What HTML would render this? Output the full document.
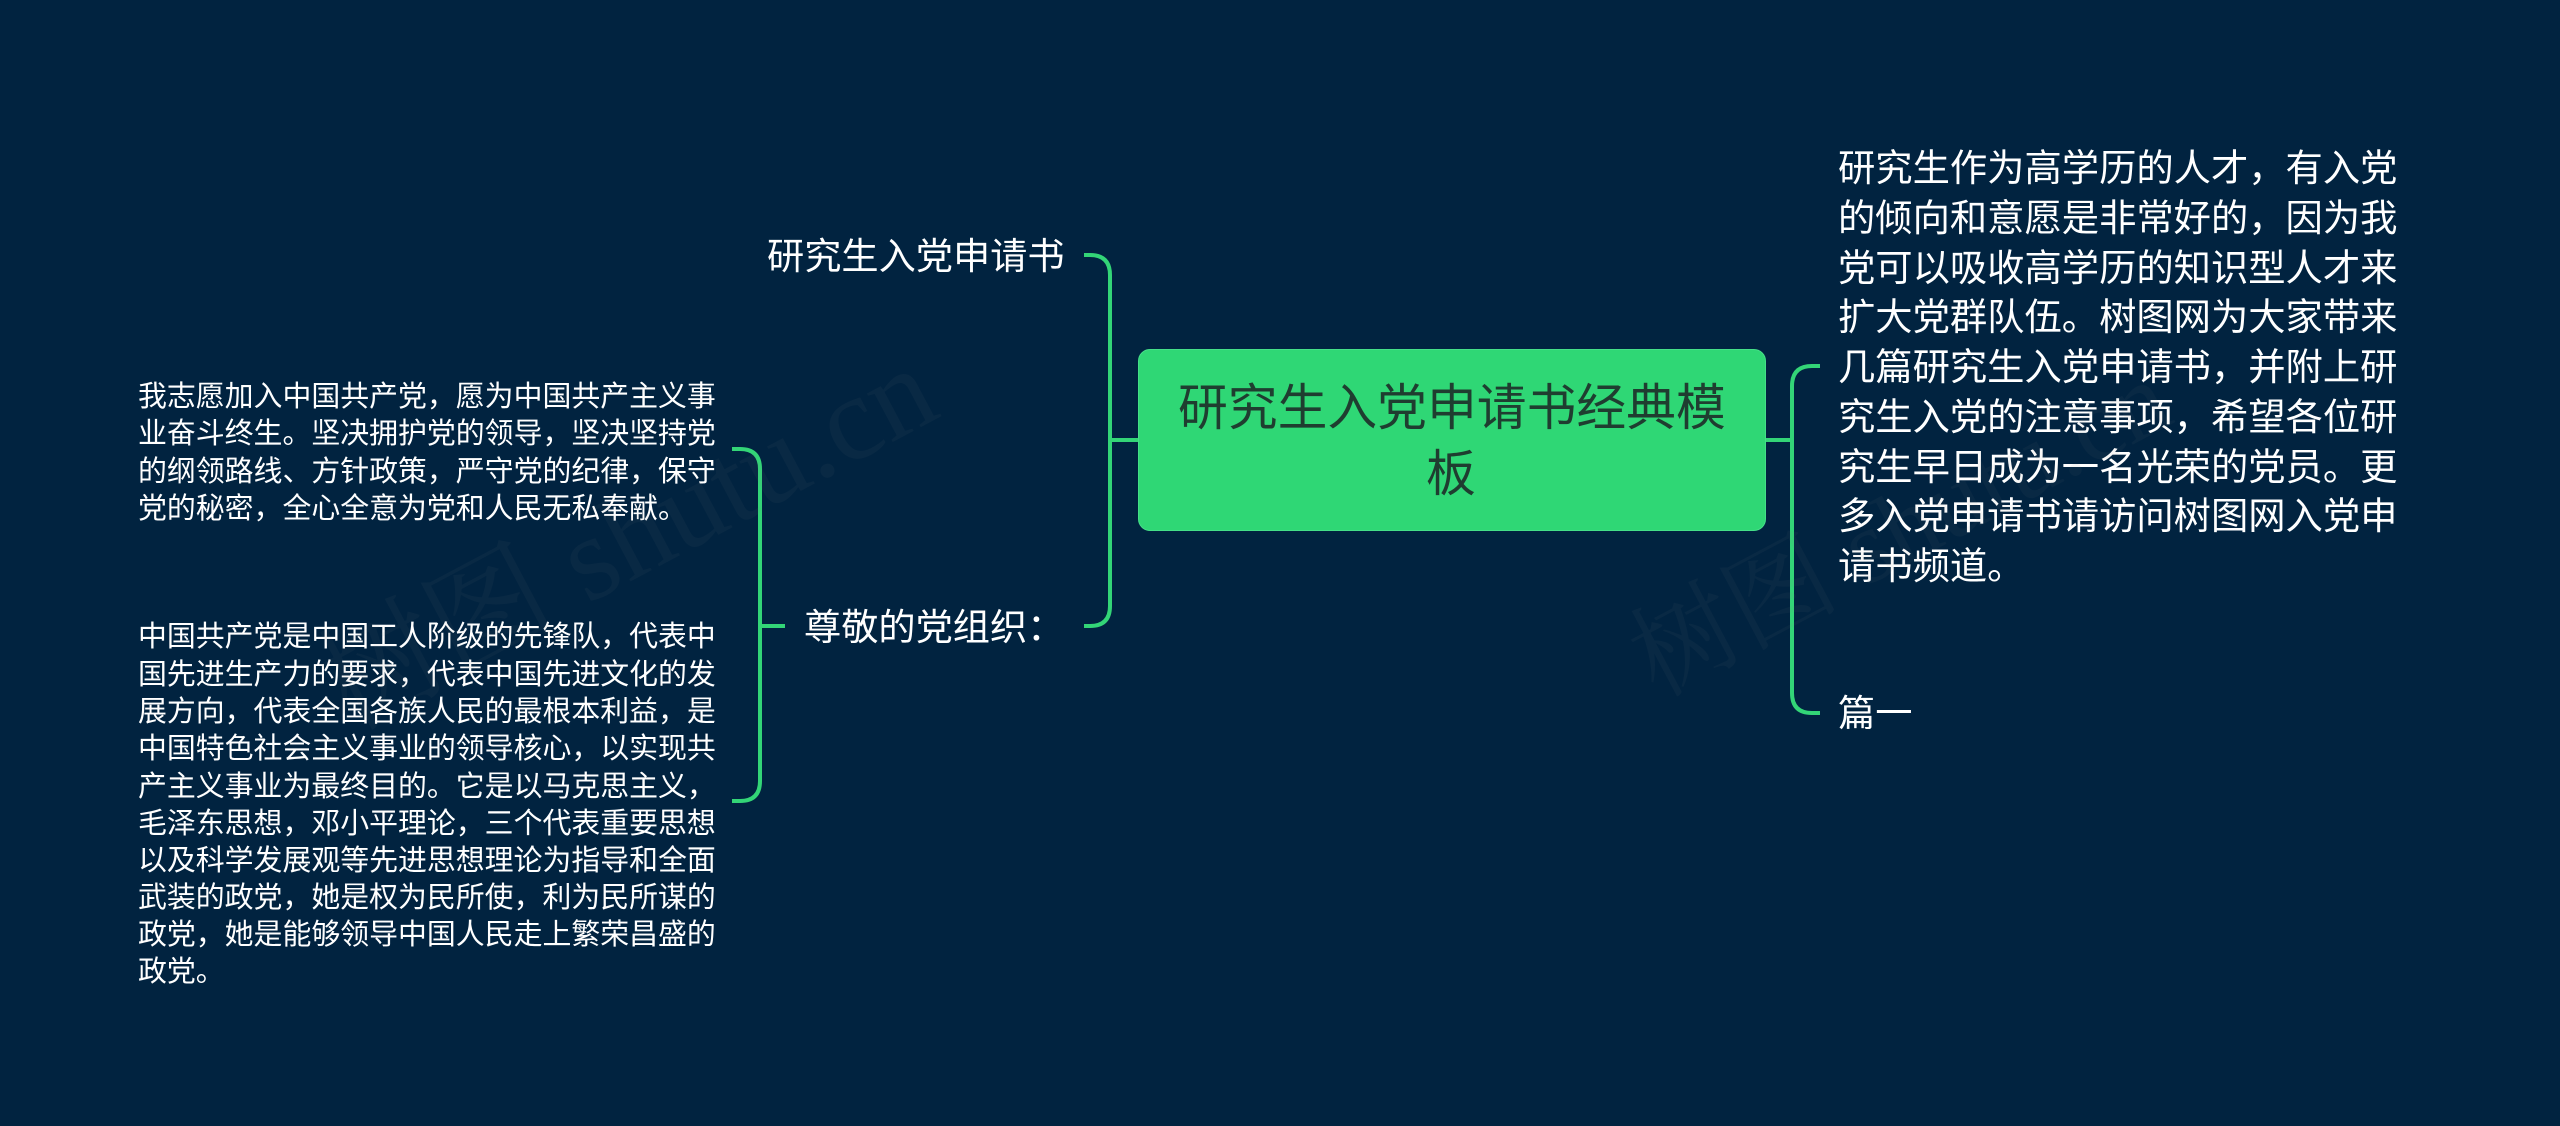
<!DOCTYPE html>
<html lang="zh"><head><meta charset="utf-8"><style>
html,body{margin:0;padding:0;width:2560px;height:1126px;overflow:hidden;background:#012340}
body{position:relative;font-family:"Liberation Sans","Noto Sans CJK SC",sans-serif;color:#fff}
.t{position:absolute;white-space:pre;line-height:1}
.w{position:absolute;white-space:pre;color:rgba(128,128,128,.07);font-family:"Liberation Serif","Noto Serif CJK SC",serif;line-height:1;transform:rotate(-28deg);transform-origin:0 50%}
.l div{position:absolute;white-space:pre;line-height:1;color:#fff}
.box{position:absolute;left:1138px;top:349px;width:626px;height:180px;border:1px solid #45df88;border-radius:12px;background:#2fd775}
</style></head><body>
<svg width="2560" height="1126" style="position:absolute;left:0;top:0" fill="none" stroke="#33d577" stroke-width="4">
<path d="M1084 255H1090Q1110 255 1110 275V606Q1110 626 1090 626H1084M1110 440H1138"/>
<path d="M1820 366H1812Q1792 366 1792 386V693Q1792 713 1812 713H1820M1766 440H1792"/>
<path d="M732 449H740Q760 449 760 469V781Q760 801 740 801H732M760 626H785"/>
</svg>
<div class="box"></div>
<div class="t" style="left:1178px;top:384px;font-size:49.8px;color:#1f3d30">研究生入党申请书经典模</div>
<div class="t" style="left:1426px;top:450px;font-size:49.8px;color:#1f3d30">板</div>
<div class="t" style="left:767px;top:238px;font-size:37.2px">研究生入党申请书</div>
<div class="t" style="left:804px;top:609px;font-size:37.2px">尊敬的党组织：</div>
<div class="t" style="left:1838px;top:695px;font-size:37.2px">篇一</div>
<div class="l" style="font-size:37.3px">
<div style="left:1838px;top:150px">研究生作为高学历的人才，有入党</div>
<div style="left:1838px;top:200px">的倾向和意愿是非常好的，因为我</div>
<div style="left:1838px;top:250px">党可以吸收高学历的知识型人才来</div>
<div style="left:1838px;top:299px">扩大党群队伍。树图网为大家带来</div>
<div style="left:1838px;top:349px">几篇研究生入党申请书，并附上研</div>
<div style="left:1838px;top:399px">究生入党的注意事项，希望各位研</div>
<div style="left:1838px;top:449px">究生早日成为一名光荣的党员。更</div>
<div style="left:1838px;top:498px">多入党申请书请访问树图网入党申</div>
<div style="left:1838px;top:548px">请书频道。</div>
</div>
<div class="l" style="font-size:28.9px">
<div style="left:138px;top:383px">我志愿加入中国共产党，愿为中国共产主义事</div>
<div style="left:138px;top:420px">业奋斗终生。坚决拥护党的领导，坚决坚持党</div>
<div style="left:138px;top:458px">的纲领路线、方针政策，严守党的纪律，保守</div>
<div style="left:138px;top:495px">党的秘密，全心全意为党和人民无私奉献。</div>
<div style="left:138px;top:623px">中国共产党是中国工人阶级的先锋队，代表中</div>
<div style="left:138px;top:661px">国先进生产力的要求，代表中国先进文化的发</div>
<div style="left:138px;top:698px">展方向，代表全国各族人民的最根本利益，是</div>
<div style="left:138px;top:735px">中国特色社会主义事业的领导核心，以实现共</div>
<div style="left:138px;top:773px">产主义事业为最终目的。它是以马克思主义，</div>
<div style="left:138px;top:810px">毛泽东思想，邓小平理论，三个代表重要思想</div>
<div style="left:138px;top:847px">以及科学发展观等先进思想理论为指导和全面</div>
<div style="left:138px;top:884px">武装的政党，她是权为民所使，利为民所谋的</div>
<div style="left:138px;top:921px">政党，她是能够领导中国人民走上繁荣昌盛的</div>
<div style="left:138px;top:958px">政党。</div>
</div>
<div class="w" style="left:330px;top:636px;font-size:120px">树图 shutu.cn</div>
<div class="w" style="left:1640px;top:614px;font-size:105px">树图 shutu.cn</div>
</body></html>
